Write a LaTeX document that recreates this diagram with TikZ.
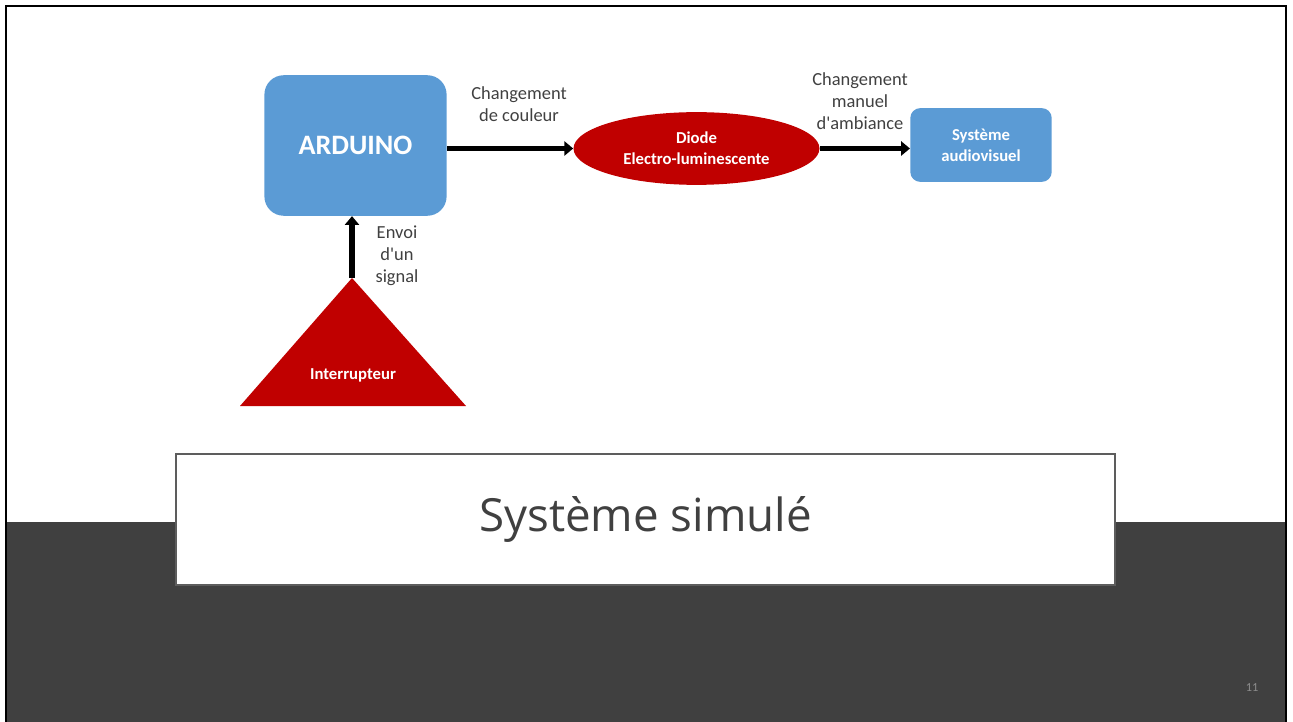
\documentclass[tikz,border=0pt]{standalone}
\usepackage{fontspec}
\setmainfont{Carlito}
\newfontfamily\titlefont{Open Sans}
\usetikzlibrary{arrows.meta,positioning,shapes.geometric}
\definecolor{bleu}{HTML}{5B9BD5}
\definecolor{rouge}{HTML}{C00000}
\definecolor{fonce}{HTML}{404040}

\begin{document}
\begin{tikzpicture}[%
	x=0.02cm,y=-0.02cm,>={Triangle[length=5pt,width=8pt]},
	bloc/.style={fill=bleu,text=white,font=\bfseries,align=center,inner sep=0},
	composant/.style={fill=rouge,text=white,align=center,inner sep=0,
		font=\bfseries\fontsize{9.5}{12}\selectfont},
	fleche/.style={->,line width=3.4pt},
	legende/.style={text=fonce,align=center,font=\fontsize{10.5}{12.5}\selectfont}]

	\useasboundingbox (0,0) rectangle (1293,722);

	% fond de la diapositive
	\fill[fonce] (7,522) rectangle (1285,722);
	\draw[line width=1.4pt] (6,722) -- (6,6) -- (1286,6) -- (1286,722);

	\node[bloc,rounded corners=11pt,minimum width=103.7pt,minimum height=80pt,
		font=\bfseries\fontsize{16}{18}\selectfont]	(ARD)	at (355.5,145.5)	{ARDUINO};
	\node[composant,ellipse,minimum width=140pt,minimum height=41.4pt]
		(DEL)	at (696.5,148.5)	{Diode\\Electro-luminescente};
	\node[bloc,rounded corners=5.7pt,minimum width=80.5pt,minimum height=42pt,
		font=\bfseries\fontsize{9.5}{12}\selectfont]	(SAV)	at (981,145)	{Syst\`eme\\audiovisuel};

	% interrupteur
	\fill[rouge] (240,406) -- (352,278) coordinate (INTsommet) -- (466,406) -- cycle;
	\node[composant]	(INT)	at (353,375)	{Interrupteur};

	\draw[fleche] (ARD.east |- DEL.west) -- (DEL.west);
	\draw[fleche] (DEL.east) -- (SAV.west |- DEL.east);
	\draw[fleche] (INTsommet) -- (INTsommet |- ARD.south);

	\node[legende]	(lblCouleur)	at (519,104)	{Changement\\de couleur};
	\node[legende]	(lblAmbiance)	at (860,101)	{Changement\\manuel\\d\textquotesingle ambiance};
	\node[legende]	(lblSignal)		at (397,256)	{Envoi\\d\textquotesingle un\\signal};

	% titre
	\node[draw=fonce!85,line width=1.3pt,fill=white,minimum width=534.6pt,
		minimum height=74.3pt,text=fonce,font=\titlefont\fontsize{26}{30}\selectfont]
		(TITRE)	at (645.5,519.5)	{Syst\`eme simul\'e};

	\node[text=fonce!60,font=\fontsize{7}{8}\selectfont]	(NUM)	at (1252,688)	{11};

\end{tikzpicture}
\end{document}
